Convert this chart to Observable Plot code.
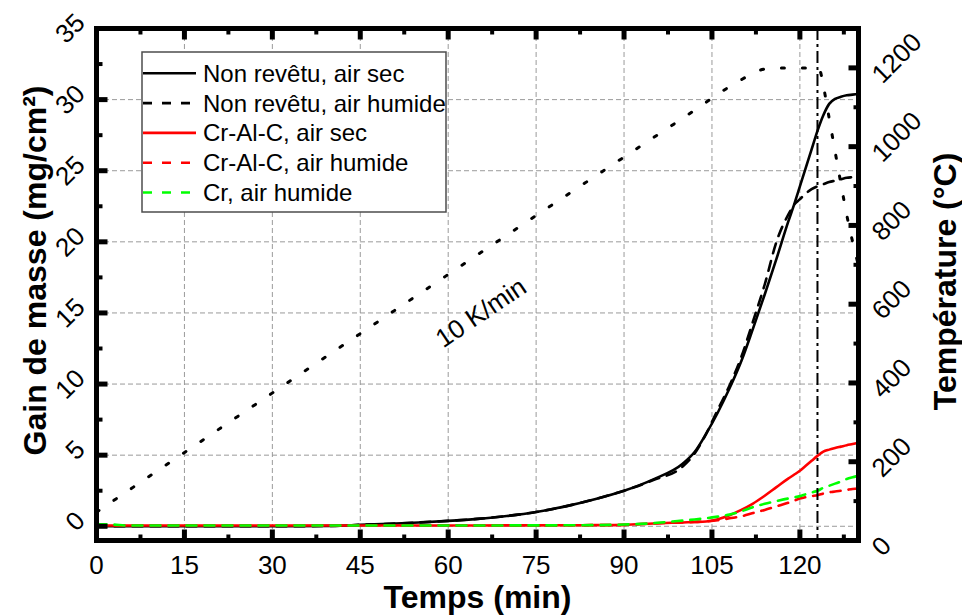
<!DOCTYPE html>
<html>
<head>
<meta charset="utf-8">
<script src="https://cdn.jsdelivr.net/npm/d3@7"></script>
<script src="https://cdn.jsdelivr.net/npm/@observablehq/plot@0.6"></script>
<style>
  body { margin: 0; background: #fff; }
  #chart svg { display: block; }
</style>
</head>
<body>
<div id="chart"></div>
<script>
// ---- data ----
const time = [0, 3, 5, 10, 20, 30, 40, 45, 50, 55, 60, 65, 70, 75, 80, 85, 90, 95, 100, 102, 104, 106, 108, 110, 112, 114, 116, 118, 119, 120, 121, 122, 123, 124, 125, 126, 127, 128, 129, 130];
const nonRevetuSec = [0, 0, 0, 0, 0, 0, 0.03, 0.1, 0.18, 0.27, 0.38, 0.52, 0.72, 1.0, 1.4, 1.9, 2.5, 3.3, 4.4, 5.2, 6.5, 8.0, 9.7, 11.6, 13.9, 16.3, 18.8, 21.4, 22.6, 23.9, 25.2, 26.5, 27.8, 28.9, 29.7, 30.05, 30.2, 30.3, 30.35, 30.4];
const nonRevetuHumide = [0, 0, 0, 0, 0, 0, 0.03, 0.1, 0.18, 0.27, 0.38, 0.52, 0.72, 1.0, 1.4, 1.9, 2.5, 3.25, 4.2, 5.1, 6.5, 8.2, 9.9, 11.9, 14.4, 17.0, 20.0, 21.9, 22.6, 23.0, 23.4, 23.7, 23.9, 24.05, 24.2, 24.3, 24.4, 24.5, 24.55, 24.6];
const crAlCSec = [0.05, 0.05, 0.05, 0.05, 0.05, 0.05, 0.05, 0.05, 0.05, 0.05, 0.05, 0.05, 0.06, 0.06, 0.07, 0.08, 0.1, 0.2, 0.27, 0.3, 0.34, 0.5, 0.78, 1.15, 1.6, 2.15, 2.75, 3.35, 3.62, 3.9, 4.25, 4.6, 4.95, 5.25, 5.39, 5.5, 5.6, 5.7, 5.78, 5.87];
const crAlCHumide = [0.05, 0.05, 0.05, 0.05, 0.05, 0.05, 0.05, 0.05, 0.05, 0.05, 0.05, 0.05, 0.06, 0.06, 0.07, 0.08, 0.1, 0.2, 0.27, 0.3, 0.34, 0.42, 0.56, 0.7, 0.93, 1.15, 1.4, 1.65, 1.8, 1.95, 2.05, 2.12, 2.18, 2.3, 2.39, 2.44, 2.5, 2.56, 2.62, 2.66];
const crHumide = [0.15, 0.12, 0.05, 0.05, 0.05, 0.05, 0.05, 0.05, 0.05, 0.05, 0.05, 0.05, 0.06, 0.06, 0.07, 0.08, 0.12, 0.22, 0.4, 0.48, 0.56, 0.68, 0.82, 1.05, 1.35, 1.58, 1.77, 1.95, 2.03, 2.12, 2.25, 2.37, 2.5, 2.7, 2.85, 3.0, 3.15, 3.33, 3.45, 3.55];

const tempTime = [0, 100, 110, 112, 113, 114, 115, 116, 118, 120, 122, 123, 123.5, 124, 125, 126, 127, 128, 129, 130];
const temperature = [72, 1072, 1170, 1186, 1193, 1197, 1199, 1200, 1200, 1200, 1200, 1200, 1190, 1155, 1072, 988, 906, 826, 758, 698];

const endTime = [123];
const annotation = [{t: 65.6, m: 15.0, label: "10 K/min"}];

const xMajor = [0, 15, 30, 45, 60, 75, 90, 105, 120];
const xMinor = [7.5, 22.5, 37.5, 52.5, 67.5, 82.5, 97.5, 112.5, 127.5];
const yMajor = [0, 5, 10, 15, 20, 25, 30, 35];
const yMinor = [2.5, 7.5, 12.5, 17.5, 22.5, 27.5, 32.5];
const tempMajor = [0, 200, 400, 600, 800, 1000, 1200];
const tempMinor = [100, 300, 500, 700, 900, 1100];

const seriesNames = ["Non revêtu, air sec", "Non revêtu, air humide", "Cr-Al-C, air sec", "Cr-Al-C, air humide", "Cr, air humide"];
const seriesColors = ["#000000", "#000000", "#ff0000", "#ff0000", "#00ff00"];
const seriesDash = [null, "10,8", null, "10,8", "10,8"];
const seriesValues = [nonRevetuSec, nonRevetuHumide, crAlCSec, crAlCHumide, crHumide];

const xTitle = "Temps (min)";
const yTitle = "Gain de masse (mg/cm²)";
const y2Title = "Température (°C)";

// ---- layout ----
const W = 962, H = 615;
const mL = 96, mR = 104, mT = 28, mB = 75;
const plotW = W - mL - mR, plotH = H - mT - mB;

// ---- scales ----
const xDomain = [0, 130];
const yDomain = [-1, 35];
const tempDomain = [0, 1300];
const toY = d3.scaleLinear(tempDomain, yDomain);
const pxX = (xDomain[1] - xDomain[0]) / plotW;
const pxY = (yDomain[1] - yDomain[0]) / plotH;

const tempData = tempTime.map((t, i) => ({t, y: toY(temperature[i])}));
const seriesData = seriesNames.map((name, s) => time.map((t, i) => ({t, m: seriesValues[s][i], name})));

const FONT = "'Liberation Sans', Arial, Helvetica, sans-serif";

const lineMarks = seriesData.map((data, s) => Plot.line(data, {
  x: "t", y: "m", stroke: seriesColors[s], strokeWidth: 2.6,
  strokeDasharray: seriesDash[s] ?? undefined, curve: "monotone-x"
}));

// inward ticks on all four sides (Plot.link in data coordinates)
const TICK = "black";
function xTicks(values, len, sw, atTop) {
  const y0 = atTop ? yDomain[1] : yDomain[0];
  const y1 = atTop ? y0 - len * pxY : y0 + len * pxY;
  return Plot.link(values, {x1: d => d, x2: d => d, y1: () => y0, y2: () => y1, stroke: TICK, strokeWidth: sw, strokeLinecap: "butt"});
}
function yTicks(values, len, sw, atRight) {
  const x0 = atRight ? xDomain[1] : xDomain[0];
  const x1 = atRight ? x0 - len * pxX : x0 + len * pxX;
  return Plot.link(values, {y1: d => d, y2: d => d, x1: () => x0, x2: () => x1, stroke: TICK, strokeWidth: sw, strokeLinecap: "butt"});
}
const tickMarks = [
  xTicks(xMajor, 11, 5, false), xTicks(xMinor, 6, 4, false),
  xTicks(xMajor, 11, 5, true), xTicks(xMinor, 6, 4, true),
  yTicks(yMajor, 11, 5, false), yTicks(yMinor, 6, 4, false),
  yTicks(tempMajor.map(toY), 10, 5, true), yTicks(tempMinor.map(toY), 5, 4, true)
];

const chart = Plot.plot({
  width: W,
  height: H,
  marginLeft: mL,
  marginRight: mR,
  marginTop: mT,
  marginBottom: mB,
  style: {fontFamily: FONT, fontSize: "26px", color: "black", background: "white", overflow: "visible"},
  x: {domain: xDomain},
  y: {domain: yDomain},
  marks: [
    Plot.gridX(xMajor.filter(d => d > 0), {stroke: "#9a9a9a", strokeOpacity: 1, strokeWidth: 1, strokeDasharray: "5,3"}),
    Plot.gridY(yMajor.filter(d => d < 35), {stroke: "#9a9a9a", strokeOpacity: 1, strokeWidth: 1, strokeDasharray: "5,3"}),
    Plot.line(tempData, {x: "t", y: "y", stroke: "black", strokeWidth: 3, strokeDasharray: "3,18", curve: "monotone-x"}),
    ...lineMarks,
    Plot.ruleX(endTime, {stroke: "black", strokeWidth: 2, strokeDasharray: "12,4,3,4"}),
    Plot.text(annotation, {x: "t", y: "m", text: "label", rotate: -34, fontSize: 26, fill: "black"}),
    Plot.frame({stroke: "black", strokeWidth: 5}),
    ...tickMarks,
    // tick labels
    Plot.axisX(xMajor, {anchor: "bottom", tickSize: 0, tickPadding: 15, fontSize: 26, label: null}),
    Plot.axisY(yMajor, {anchor: "left", tickSize: 0, tickPadding: 16, tickRotate: -45, textAnchor: "end", dy: -10, fontSize: 26, label: null}),
    Plot.axisY(tempMajor.map(toY), {anchor: "right", tickSize: 0, tickPadding: 18, tickRotate: -45, textAnchor: "start", dy: 11, fontSize: 26, label: null,
      tickFormat: d => String(Math.round(toY.invert(d)))}),
    // axis titles
    Plot.text([xTitle], {frameAnchor: "bottom", dy: 57, textAnchor: "middle", lineAnchor: "middle", fontSize: 32, fontWeight: "bold", fill: "black"}),
    Plot.text([yTitle], {frameAnchor: "left", dx: -61, dy: -14, rotate: -90, textAnchor: "middle", lineAnchor: "middle", fontSize: 32, fontWeight: "bold", fill: "black"}),
    Plot.text([y2Title], {frameAnchor: "right", dx: 87, dy: -3, rotate: -90, textAnchor: "middle", lineAnchor: "middle", fontSize: 32, fontWeight: "bold", fill: "black"})
  ]
});

document.getElementById("chart").appendChild(chart);

// ---- legend (inside the plot area, top-left) ----
const svg = d3.select(chart);
const lg = svg.append("g").attr("font-family", FONT).attr("font-size", 24).attr("text-anchor", "start");
lg.append("rect").attr("x", 142).attr("y", 52).attr("width", 304).attr("height", 160)
  .attr("fill", "white").attr("stroke", "#4d4d4d").attr("stroke-width", 1.5);
seriesNames.forEach((name, i) => {
  const cy = 73.3 + i * 29.8;
  lg.append("line").attr("x1", 143).attr("x2", 196).attr("y1", cy).attr("y2", cy)
    .attr("stroke", seriesColors[i]).attr("stroke-width", 2.6)
    .attr("stroke-dasharray", seriesDash[i] ? "9,10" : null);
  lg.append("text").attr("x", 203).attr("y", cy).attr("dy", "0.35em").attr("fill", "black")
    .attr("text-anchor", "start").text(name);
});
</script>
</body>
</html>
